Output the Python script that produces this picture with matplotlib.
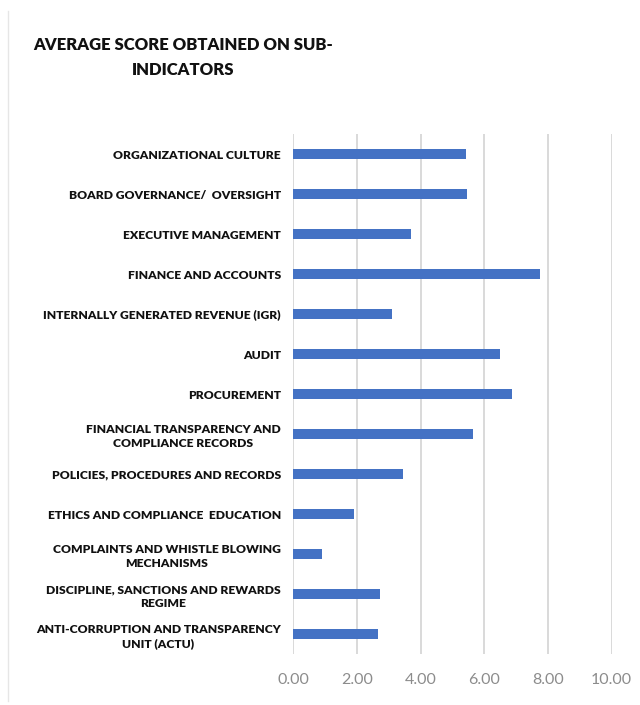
import matplotlib
matplotlib.use("Agg")
import matplotlib.pyplot as plt
from matplotlib.lines import Line2D
from matplotlib.ticker import FormatStrFormatter

categories = [
    "ORGANIZATIONAL CULTURE",
    "BOARD GOVERNANCE/  OVERSIGHT",
    "EXECUTIVE MANAGEMENT",
    "FINANCE AND ACCOUNTS",
    "INTERNALLY GENERATED REVENUE (IGR)",
    "AUDIT",
    "PROCUREMENT",
    "FINANCIAL TRANSPARENCY AND\nCOMPLIANCE RECORDS",
    "POLICIES, PROCEDURES AND RECORDS",
    "ETHICS AND COMPLIANCE  EDUCATION",
    "COMPLAINTS AND WHISTLE BLOWING\nMECHANISMS",
    "DISCIPLINE, SANCTIONS AND REWARDS\nREGIME",
    "ANTI-CORRUPTION AND TRANSPARENCY\nUNIT (ACTU)",
]
scores = [5.42, 5.45, 3.69, 7.75, 3.10, 6.49, 6.86, 5.65, 3.46, 1.92, 0.91, 2.73, 2.67]
x_ticks = [0, 2, 4, 6, 8, 10]

title = "AVERAGE SCORE OBTAINED ON SUB-\nINDICATORS"

fig = plt.figure(figsize=(6.4, 7.05), dpi=100)
ax = fig.add_axes([0.4583, 0.0723, 0.4975, 0.7376])

positions = list(range(len(categories)))
ax.barh(positions, scores, height=0.23, color="#4472C4", zorder=3)

ax.set_ylim(len(categories) - 0.5, -0.5)
ax.set_xlim(0, 10)
ax.set_xticks(x_ticks)
ax.xaxis.set_major_formatter(FormatStrFormatter("%.2f"))
ax.set_yticks(positions)
ax.set_yticklabels(categories, fontfamily="Lato", fontweight="heavy",
                   fontsize=8.7, color="#111111", multialignment="center",
                   linespacing=1.3)
ax.tick_params(axis="y", length=0, pad=9)
ax.tick_params(axis="x", length=0, pad=14, labelsize=11.5, labelcolor="#8c8c8c")
for lbl in ax.get_xticklabels():
    lbl.set_fontfamily("Lato")

ax.grid(axis="x", color="#d9d9d9", linewidth=1.4, zorder=0)
for s in ax.spines.values():
    s.set_visible(False)

fig.text(0.286, 0.919, title, ha="center", va="center", fontfamily="Lato",
         fontweight="heavy", fontsize=12, color="#111111", linespacing=1.7)

# chart area frame edge
fig.add_artist(Line2D([0.0125, 0.0125], [0.005, 0.985], transform=fig.transFigure,
                      color="#e6e6e6", linewidth=1.0))

fig.savefig("out.png", dpi=100, facecolor="white")
